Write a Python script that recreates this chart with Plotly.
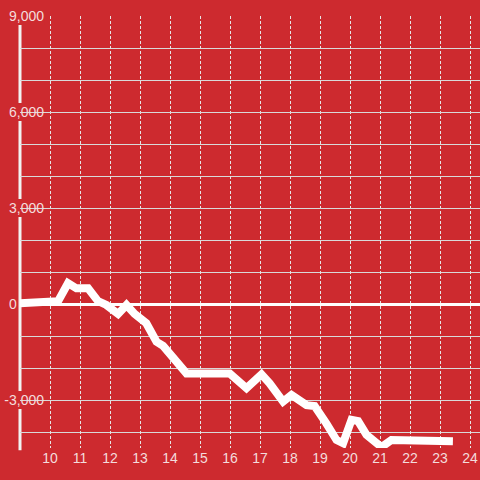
import plotly.graph_objects as go

# ---- data ----
hours = [9.0, 10.27, 10.6, 10.88, 11.27, 11.6, 11.88, 12.27, 12.55, 12.82, 13.21,
         13.55, 13.77, 14.1, 14.55, 15.99, 16.55, 17.05, 17.32, 17.77, 18.05,
         18.55, 18.82, 19.21, 19.55, 19.77, 20.05, 20.27, 20.55, 21.05, 21.38, 23.43]
values = [20, 90, 650, 490, 490, 90, -30, -310, -30, -310, -600,
          -1180, -1310, -1700, -2170, -2170, -2630, -2200, -2480, -3050, -2840,
          -3160, -3190, -3730, -4250, -4350, -3620, -3660, -4090, -4470, -4250, -4290]

y_tickvals = [-3000, 0, 3000, 6000, 9000]
y_ticktext = ["-3,000", "0", "3,000", "6,000", "9,000"]
x_tickvals = list(range(10, 25))
x_ticktext = [str(v) for v in x_tickvals]

BG = "#cd2a2f"
TXT = "#f4dcdc"
FONT = "Liberation Sans, Arial, sans-serif"

fig = go.Figure()
fig.add_trace(go.Scatter(x=hours, y=values, mode="lines",
                         line=dict(color="white", width=8), hoverinfo="skip"))

# axis line (drawn as shape so tick label backgrounds can cover it)
shapes = [dict(type="line", xref="paper", yref="paper", x0=0, x1=0, y0=-0.005, y1=0.982,
               line=dict(color="#f2f2f2", width=3), layer="between")]
# red backgrounds behind y tick labels
for v, t in zip(y_tickvals, y_ticktext):
    if t == "0":
        continue
    shapes.append(dict(type="rect", xref="paper", yref="y", x0=-0.04, x1=0.054,
                       y0=v - 280, y1=v + 280, fillcolor=BG, line=dict(width=0),
                       layer="between"))

# shift "0" label to the left as in the reference
y_ticktext_disp = [t if t != "0" else "0" + "\u00a0" * 7 for t in y_ticktext]

fig.update_layout(
    width=480, height=480,
    margin=dict(l=20, r=0, t=16, b=32),
    paper_bgcolor=BG, plot_bgcolor=BG,
    showlegend=False,
    font=dict(family=FONT, size=14, color=TXT),
    shapes=shapes,
    xaxis=dict(range=[9, 24.333], tickvals=x_tickvals, ticktext=x_ticktext,
               showgrid=True, gridcolor="#e6e6e6", gridwidth=1, griddash="3px,2px",
               zeroline=False, showline=False, ticks="", automargin=False,
               tickfont=dict(size=14, color=TXT)),
    yaxis=dict(range=[-4500, 9000], tickvals=y_tickvals, ticktext=y_ticktext_disp,
               showgrid=True, gridcolor="#d9d9d9", gridwidth=1,
               minor=dict(dtick=1000, tick0=0, showgrid=True, gridcolor="#d9d9d9", gridwidth=1),
               zeroline=True, zerolinecolor="white", zerolinewidth=3,
               showline=False, ticks="", automargin=False,
               ticklabelstandoff=-25,
               tickfont=dict(size=14, color=TXT)),
)

fig.write_html("out.html", config={"displayModeBar": False},
               post_script="document.body.style.margin='0';document.body.style.background='" + BG + "';")
